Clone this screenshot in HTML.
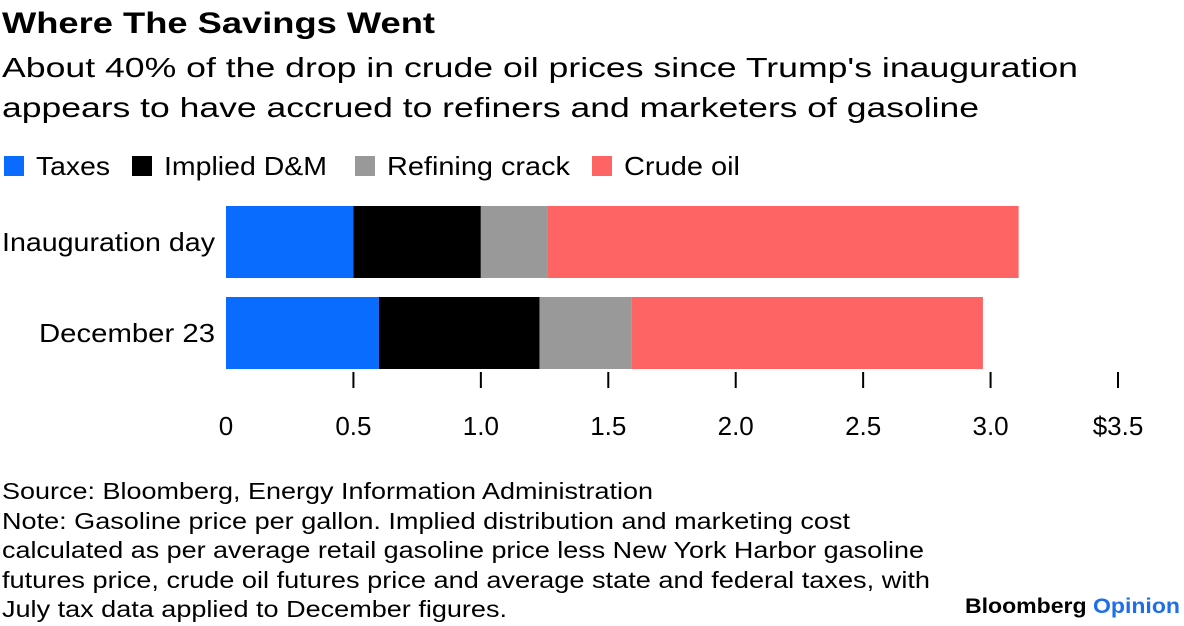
<!DOCTYPE html>
<html><head><meta charset="utf-8"><style>
body{margin:0;background:#fff}
svg{display:block;font-family:"Liberation Sans",sans-serif}
</style></head><body>
<svg id="c" width="1184" height="626" viewBox="0 0 1184 626">
<text x="2" y="33" font-size="30" font-weight="bold" fill="#000" textLength="433" lengthAdjust="spacingAndGlyphs">Where The Savings Went</text>
<text x="2" y="77" font-size="28" fill="#000" textLength="1076" lengthAdjust="spacingAndGlyphs">About 40% of the drop in crude oil prices since Trump's inauguration</text>
<text x="2" y="117" font-size="28" fill="#000" textLength="977" lengthAdjust="spacingAndGlyphs">appears to have accrued to refiners and marketers of gasoline</text>
<g id="legend"></g>
<g id="bars"></g>
<g id="axis"></g>
<g font-size="23" fill="#000">
<text x="2" y="499" textLength="651" lengthAdjust="spacingAndGlyphs">Source: Bloomberg, Energy Information Administration</text>
<text x="2" y="529" textLength="848" lengthAdjust="spacingAndGlyphs">Note: Gasoline price per gallon. Implied distribution and marketing cost</text>
<text x="2" y="558" textLength="922" lengthAdjust="spacingAndGlyphs">calculated as per average retail gasoline price less New York Harbor gasoline</text>
<text x="2" y="588" textLength="928" lengthAdjust="spacingAndGlyphs">futures price, crude oil futures price and average state and federal taxes, with</text>
<text x="2" y="617" textLength="505" lengthAdjust="spacingAndGlyphs">July tax data applied to December figures.</text>
</g>
<text x="965" y="613" font-size="21" font-weight="bold" textLength="215" lengthAdjust="spacingAndGlyphs"><tspan fill="#000">Bloomberg </tspan><tspan fill="#1f6fe8">Opinion</tspan></text>
</svg>
<script>
const categories = ["Inauguration day", "December 23"];
const seriesNames = ["Taxes", "Implied D&M", "Refining crack", "Crude oil"];
const taxes = [0.50, 0.60];
const impliedDM = [0.50, 0.63];
const refiningCrack = [0.26, 0.36];
const crudeOil = [1.85, 1.38];
const tickValues = [0, 0.5, 1.0, 1.5, 2.0, 2.5, 3.0, 3.5];
const tickLabels = ["0", "0.5", "1.0", "1.5", "2.0", "2.5", "3.0", "$3.5"];

const NS = "http://www.w3.org/2000/svg";
const colors = ["#0a6cff", "#000000", "#999999", "#ff6464"];
const x0 = 226, x1 = 1118, xMax = 3.5;
const xs = v => x0 + (v / xMax) * (x1 - x0);
const bandTop = 206, bandStep = 91, barH = 72;
const ys = i => bandTop + i * bandStep;
function mk(tag, attrs, parent) { const e = document.createElementNS(NS, tag); for (const k in attrs) e.setAttribute(k, attrs[k]); parent.appendChild(e); return e; }

const legend = document.getElementById("legend");
const legendX = [4, 132, 355, 592];
const legendW = [74, 163, 183, 116];
seriesNames.forEach((n, i) => {
  const r = mk("rect", {x: legendX[i], y: 156, width: 20, height: 20, fill: colors[i]}, legend);
  
  
  const t = mk("text", {x: legendX[i] + 32, y: 175, "font-size": 26, fill: "#000", textLength: legendW[i], lengthAdjust: "spacingAndGlyphs"}, legend);
  t.textContent = n;
  
  
});

const series = [taxes, impliedDM, refiningCrack, crudeOil];
const bars = document.getElementById("bars");
const catW = [213, 176];
categories.forEach((c, i) => {
  let acc = 0;
  series.forEach((s, k) => {
    const r = mk("rect", {x: xs(acc), y: ys(i), width: xs(acc + s[i]) - xs(acc), height: barH, fill: colors[k]}, bars);
    
    
    acc += s[i];
  });
  const t = mk("text", {x: 215 - catW[i], y: ys(i) + barH / 2 + 9, "font-size": 26, fill: "#000", textLength: catW[i], lengthAdjust: "spacingAndGlyphs"}, bars);
  t.textContent = c;
  
  
});

const axis = document.getElementById("axis");
tickValues.forEach((v, i) => {
  if (v > 0) {
    const l = mk("line", {x1: xs(v), x2: xs(v), y1: 372, y2: 388, stroke: "#000", "stroke-width": 2}, axis);
    
    
  }
  const t = mk("text", {x: xs(v), y: 435, "font-size": 26, "text-anchor": "middle", fill: "#000"}, axis);
  t.textContent = tickLabels[i];
  
  
});
</script>
</body></html>
